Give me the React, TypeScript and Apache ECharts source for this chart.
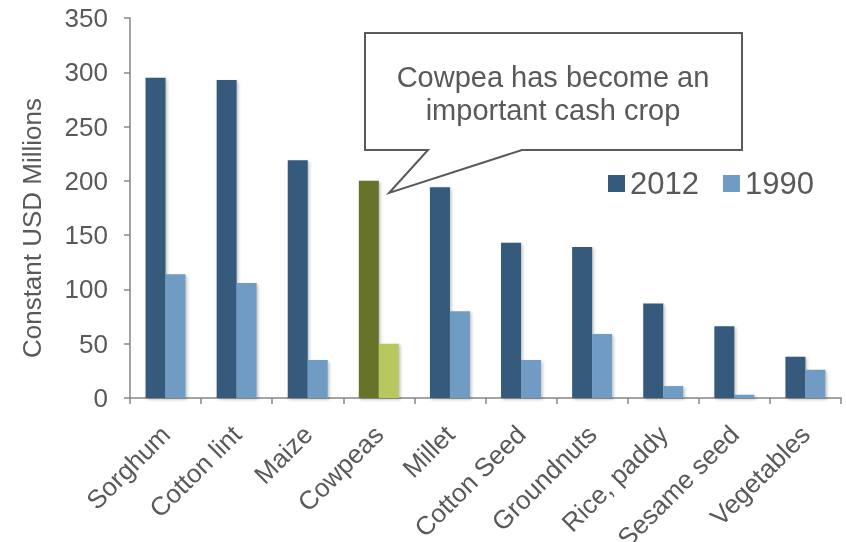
import React, { useEffect, useRef } from "react";
import * as echarts from "echarts";

const categories = ["Sorghum", "Cotton lint", "Maize", "Cowpeas", "Millet", "Cotton Seed", "Groundnuts", "Rice, paddy", "Sesame seed", "Vegetables"];
const values2012 = [295, 293, 219, 200, 194, 143, 139, 87, 66, 38];
const values1990 = [114, 106, 35, 50, 80, 35, 59, 11, 3, 26];
const yTicks = { min: 0, max: 350, interval: 50 };
const highlightIndex = 3;
const calloutLines = ["Cowpea has become an", "important cash crop"];
const yTitle = "Constant USD Millions";

const C2012 = "#355a7c";
const C1990 = "#6f9cc4";
const H2012 = "#68732a";
const H1990 = "#b8c85f";
const TEXT = "#595959";
const AXIS = "#868686";

export default function App() {
  const ref = useRef<HTMLDivElement>(null);
  useEffect(() => {
    if (!ref.current) return;
    const chart = echarts.init(ref.current, null, { renderer: "svg" });
    const font = "Liberation Sans, Arial, sans-serif";
    const shadow = { shadowColor: "rgba(0,0,0,0.25)", shadowBlur: 3, shadowOffsetX: 1.5, shadowOffsetY: 1.5 };
    chart.setOption({
      animation: false,
      textStyle: { fontFamily: font },
      grid: { left: 130, right: 5, top: 18, bottom: 144, containLabel: false, outerBoundsMode: "none" },
      legend: {
        data: ["2012", "1990"],
        left: 603,
        top: 163,
        itemWidth: 17,
        itemHeight: 17,
        itemGap: 24,
        icon: "rect",
        textStyle: { fontSize: 31, color: TEXT, fontFamily: font },
      },
      xAxis: {
        type: "category",
        data: categories,
        boundaryGap: true,
        axisLine: { lineStyle: { color: AXIS, width: 1.5 } },
        axisTick: { show: true, interval: 0, length: 6, lineStyle: { color: AXIS, width: 1.5 } },
        axisLabel: { interval: 0, rotate: 45, fontSize: 26, color: TEXT, margin: 32, fontFamily: font },
      },
      yAxis: {
        type: "value",
        min: yTicks.min,
        max: yTicks.max,
        interval: yTicks.interval,
        splitLine: { show: false },
        axisLine: { show: true, lineStyle: { color: AXIS, width: 1.5 } },
        axisTick: { show: true, length: 6, lineStyle: { color: AXIS, width: 1.5 } },
        axisLabel: { fontSize: 26, color: TEXT, margin: 22, fontFamily: font },
      },
      series: [
        {
          name: "2012",
          type: "bar",
          barWidth: 20,
          barGap: "0%",
          itemStyle: { color: C2012, ...shadow },
          data: values2012.map((v, i) => (i === highlightIndex ? { value: v, itemStyle: { color: H2012 } } : v)),
        },
        {
          name: "1990",
          type: "bar",
          barWidth: 20,
          barGap: "0%",
          itemStyle: { color: C1990, ...shadow },
          data: values1990.map((v, i) => (i === highlightIndex ? { value: v, itemStyle: { color: H1990 } } : v)),
        },
      ],
      graphic: [
        {
          type: "text",
          x: 32,
          y: 228,
          rotation: Math.PI / 2,
          style: { text: yTitle, fontSize: 26, fill: TEXT, textAlign: "center", textVerticalAlign: "middle", fontFamily: font },
        },
        {
          type: "polygon",
          z: 10,
          shape: {
            points: [
              [365, 33],
              [742, 33],
              [742, 150],
              [522, 150],
              [389, 193],
              [428, 150],
              [365, 150],
            ],
          },
          style: { fill: "#ffffff", stroke: "#5a5a5a", lineWidth: 2 },
        },
        {
          type: "text",
          z: 11,
          x: 553,
          y: 77,
          style: { text: calloutLines[0], fontSize: 29, fill: TEXT, textAlign: "center", textVerticalAlign: "middle", fontFamily: font },
        },
        {
          type: "text",
          z: 11,
          x: 553,
          y: 110,
          style: { text: calloutLines[1], fontSize: 29, fill: TEXT, textAlign: "center", textVerticalAlign: "middle", fontFamily: font },
        },
      ],
    });
    return () => chart.dispose();
  }, []);
  return <div ref={ref} style={{ position: "fixed", left: 0, top: 0, width: 846, height: 542 }} />;
}
